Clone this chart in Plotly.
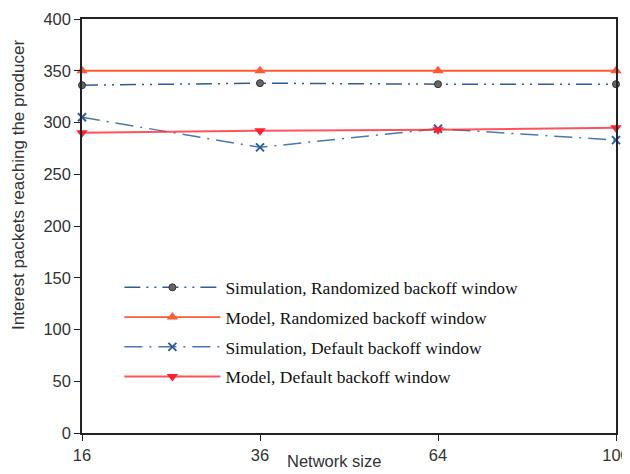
import plotly.graph_objects as go

network_size = ["16", "36", "64", "100"]
sim_random = [336, 338, 337, 337]
model_random = [350, 350, 350, 350]
sim_default = [305, 276, 294, 283]
model_default = [290, 292, 293, 295]
y_ticks = [0, 50, 100, 150, 200, 250, 300, 350, 400]

blue = "#2e5c9a"
fig = go.Figure()
fig.add_trace(go.Scatter(
    x=network_size, y=sim_random, name="Simulation, Randomized backoff window",
    mode="lines+markers", cliponaxis=False, legendgroup="a",
    line=dict(color=blue, width=1.5, dash="16px,6px,2px,6px,2px,6px"),
    marker=dict(symbol="circle", size=7, color="#666666", line=dict(color="#333333", width=1))))
fig.add_trace(go.Scatter(
    x=network_size, y=model_random, name="Model, Randomized backoff window",
    mode="lines+markers", cliponaxis=False, legendgroup="b",
    line=dict(color="#ff5a36", width=1.8),
    marker=dict(symbol="triangle-up", size=10, color="#ff5a36")))
fig.add_trace(go.Scatter(
    x=network_size, y=sim_default, name="Simulation, Default backoff window",
    mode="lines+markers", cliponaxis=False, legendgroup="c",
    line=dict(color="#4a78b0", width=1.5, dash="18px,7px,2px,7px"),
    marker=dict(symbol="x-thin", size=8, color=blue, line=dict(color=blue, width=2))))
fig.add_trace(go.Scatter(
    x=network_size, y=model_default, name="Model, Default backoff window",
    mode="lines+markers", cliponaxis=False, legendgroup="d",
    line=dict(color="rgba(255,40,50,0.8)", width=2),
    marker=dict(symbol="triangle-down", size=10, color="#ff2030")))

# page body has an 8px margin, so the figure is sized to fit the 630x474 window
fig.update_layout(
    width=622, height=466,
    margin=dict(l=74, r=14, t=11, b=41),
    paper_bgcolor="white", plot_bgcolor="white",
    font=dict(family="Liberation Sans, Arial, sans-serif", color="#333333"),
    legend=dict(x=0.07, y=0.395, xanchor="left", yanchor="top",
                font=dict(family="Liberation Serif, Times New Roman, serif", size=17.5, color="#111111"),
                bgcolor="rgba(0,0,0,0)", tracegroupgap=4, itemwidth=96,
                traceorder="grouped"),
    showlegend=True,
    annotations=[
        dict(text="Network size", xref="paper", yref="paper", x=(334 - 82) / 534, y=(433 - 461) / 414,
             xanchor="center", yanchor="middle", showarrow=False,
             font=dict(size=16.5, color="#333333")),
        dict(text="Interest packets reaching the producer", xref="paper", yref="paper",
             x=(18 - 82) / 534, y=(433 - 185) / 414, xanchor="center", yanchor="middle",
             textangle=-90, showarrow=False, font=dict(size=17, color="#333333")),
    ],
)
fig.update_xaxes(
    type="category", range=[0, 3], showgrid=False, zeroline=False, automargin=False,
    showline=True, linecolor="#222222", linewidth=1.5, mirror=True,
    ticks="outside", ticklen=6, tickcolor="#222222",
    tickfont=dict(size=16.5, color="#333333"),
)
fig.update_yaxes(
    range=[0, 400], tickvals=y_ticks, showgrid=False, zeroline=False, automargin=False,
    showline=True, linecolor="#222222", linewidth=1.5, mirror=True,
    ticks="outside", ticklen=6, tickcolor="#222222",
    tickfont=dict(size=16.5, color="#333333"),
)
fig.write_html("out.html")
